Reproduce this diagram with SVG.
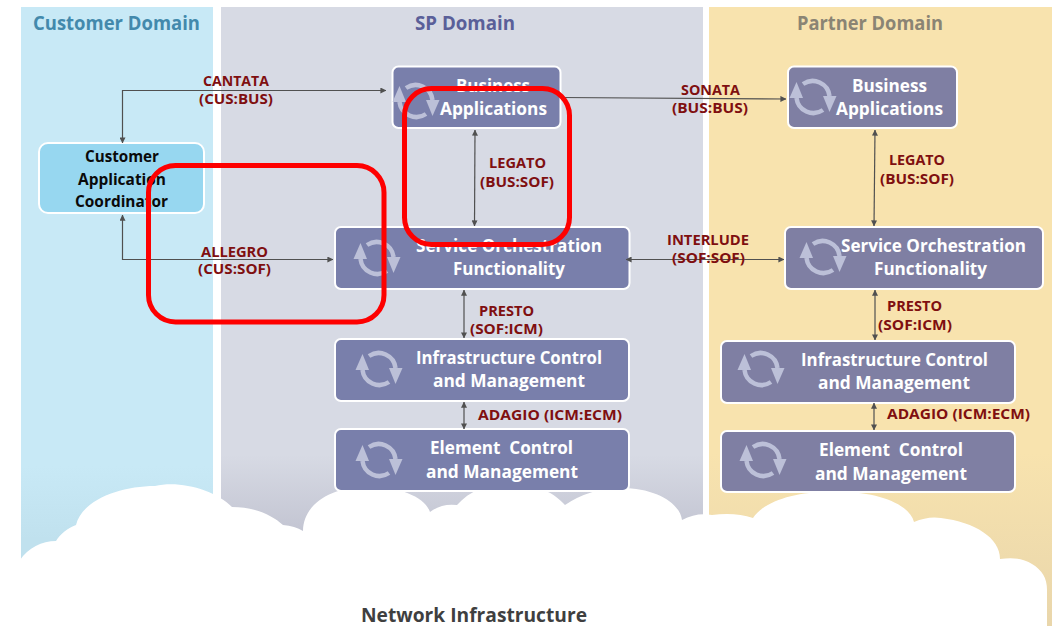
<svg xmlns="http://www.w3.org/2000/svg" width="1053" height="626" viewBox="0 0 1053 626">
<style>
text{font-family:"Open Sans","Noto Sans","Liberation Sans",sans-serif;font-weight:700;}
.t{font-size:18px;fill:#fff;}
.h{font-size:20px;}
.l{font-size:14.500px;fill:#7f0f10;}
.c{font-size:16px;fill:#0a0a0a;}
.b{fill:#797fab;stroke:#fff;stroke-width:2;}
.p{fill:#7f7fa3;stroke:#fff;stroke-width:2;}
.k{fill:none;stroke:#505050;stroke-width:1.2;marker-start:url(#a);marker-end:url(#a);}
.r{fill:none;stroke:#fe0000;stroke-width:5;}
</style>
<defs>
<marker id="a" viewBox="0 0 8 8" refX="7.500" refY="4" markerWidth="6" markerHeight="6" markerUnits="userSpaceOnUse" orient="auto-start-reverse"><path d="M0 0L8 4L0 8Z" fill="#505050"/></marker>
<linearGradient id="g1" x1="0" y1="0" x2="0" y2="1"><stop offset=".82" stop-color="#c8e9f6"/><stop offset=".95" stop-color="#c0e1ee"/></linearGradient>
<linearGradient id="g2" x1="0" y1="0" x2="0" y2="1"><stop offset=".8" stop-color="#d7dae4"/><stop offset=".93" stop-color="#c4c6d3"/></linearGradient>
<linearGradient id="g3" x1="0" y1="0" x2="0" y2="1"><stop offset=".72" stop-color="#f8e3ae"/><stop offset="1" stop-color="#e9d6ab"/></linearGradient>
<g id="i" fill="#bcc0d8">
<path d="M-10-13A17 17 0 0 1 16.500-1M10 13A17 17 0 0 1-16.500 1" fill="none" stroke="#bcc0d8" stroke-width="4.500"/>
<path d="M10-1H23.500L16.500 15Z"/><path d="M-10 1H-23.500L-16.500-15Z"/>
</g>
</defs>
<rect width="1053" height="626" fill="#fff"/>
<rect x="21" y="7" width="192" height="560" fill="url(#g1)"/>
<rect x="221" y="7" width="482" height="560" fill="url(#g2)"/>
<rect x="709" y="7" width="343" height="619" fill="url(#g3)"/>
<g id="domain-titles">
<text class="h" x="33" y="30" textLength="167" lengthAdjust="spacingAndGlyphs" fill="#4389ac">Customer Domain</text>
<text class="h" x="415" y="30" textLength="100" lengthAdjust="spacingAndGlyphs" fill="#5a5f99">SP Domain</text>
<text class="h" x="797" y="30" textLength="146" lengthAdjust="spacingAndGlyphs" fill="#8a8474">Partner Domain</text>
</g>
<g id="cloud"><path d="M20 626V560C28 548 42 541 56 541C60 534 68 528 76 525C82 500 120 486 155 486C180 480 215 490 232 507C255 507 272 515 283 525Q295 526 303 531C303 505 330 486 370 487C400 487 425 497 430 512Q442 503 457 505C470 490 490 483 510 484C535 483 555 493 565 505Q590 488 622 488C655 488 680 503 682 520Q697 512 712 515Q735 512 753 518C765 500 800 490 840 492C880 492 910 505 914 522Q928 516 941 518C975 522 1000 538 1000 559Q1020 556 1032 564C1042 570 1047 578 1047 590V626Z" fill="#fff"/></g>
<g id="customer-application-coordinator">
<rect x="39" y="143" width="165" height="70" rx="9" fill="#97d7f0" stroke="#fff" stroke-width="2"/>
<text class="c" x="85" y="162" textLength="74" lengthAdjust="spacingAndGlyphs">Customer</text>
<text class="c" x="78" y="185" textLength="88" lengthAdjust="spacingAndGlyphs">Application</text>
<text class="c" x="75" y="207" textLength="93" lengthAdjust="spacingAndGlyphs">Coordinator</text>
</g>
<g id="sp-business-applications">
<rect class="b" x="392.500" y="66.500" width="168" height="61.500" rx="6"/><use href="#i" transform="translate(416 101)"/>
<text class="t" x="456" y="92" textLength="74" lengthAdjust="spacingAndGlyphs">Business</text>
<text class="t" x="440" y="115" textLength="107" lengthAdjust="spacingAndGlyphs">Applications</text>
</g>
<g id="sp-service-orchestration">
<rect class="b" x="335" y="227" width="294.500" height="62" rx="6"/><use href="#i" transform="translate(377 258)"/>
<text class="t" x="416" y="252" textLength="186" lengthAdjust="spacingAndGlyphs">Service Orchestration</text>
<text class="t" x="453" y="275" textLength="112" lengthAdjust="spacingAndGlyphs">Functionality</text>
</g>
<g id="sp-infrastructure-control">
<rect class="b" x="335" y="339" width="294" height="62" rx="6"/><use href="#i" transform="translate(379 369)"/>
<text class="t" x="416" y="364" textLength="186" lengthAdjust="spacingAndGlyphs">Infrastructure Control</text>
<text class="t" x="433" y="387" textLength="152" lengthAdjust="spacingAndGlyphs">and Management</text>
</g>
<g id="sp-element-control">
<rect class="b" x="335" y="429" width="294" height="62" rx="6"/><use href="#i" transform="translate(379 460)"/>
<text class="t" x="430" y="454" textLength="143" lengthAdjust="spacingAndGlyphs" xml:space="preserve">Element  Control</text>
<text class="t" x="426" y="478" textLength="152" lengthAdjust="spacingAndGlyphs">and Management</text>
</g>
<g id="partner-business-applications">
<rect class="p" x="788" y="66.500" width="169" height="61.500" rx="6"/><use href="#i" transform="translate(813 97)"/>
<text class="t" x="852" y="92" textLength="75" lengthAdjust="spacingAndGlyphs">Business</text>
<text class="t" x="836" y="115" textLength="107" lengthAdjust="spacingAndGlyphs">Applications</text>
</g>
<g id="partner-service-orchestration">
<rect class="p" x="785" y="227" width="258" height="62" rx="6"/><use href="#i" transform="translate(823 257)"/>
<text class="t" x="841" y="252" textLength="185" lengthAdjust="spacingAndGlyphs">Service Orchestration</text>
<text class="t" x="874" y="275" textLength="113" lengthAdjust="spacingAndGlyphs">Functionality</text>
</g>
<g id="partner-infrastructure-control">
<rect class="p" x="721" y="341" width="294" height="62" rx="6"/><use href="#i" transform="translate(761 369)"/>
<text class="t" x="801" y="366" textLength="187" lengthAdjust="spacingAndGlyphs">Infrastructure Control</text>
<text class="t" x="818" y="389" textLength="152" lengthAdjust="spacingAndGlyphs">and Management</text>
</g>
<g id="partner-element-control">
<rect class="p" x="721" y="431" width="294" height="61" rx="6"/><use href="#i" transform="translate(763 460)"/>
<text class="t" x="819" y="456" textLength="144" lengthAdjust="spacingAndGlyphs" xml:space="preserve">Element  Control</text>
<text class="t" x="815" y="480" textLength="152" lengthAdjust="spacingAndGlyphs">and Management</text>
</g>
<g id="connectors">
<path class="k" d="M122.500 143V90.500H386"/>
<path class="k" d="M122.500 215V259.500H333"/>
<path d="M561 97.500L786 99" fill="none" stroke="#505050" stroke-width="1.200" marker-end="url(#a)"/>
<path class="k" d="M475 130L474.500 226"/>
<path class="k" d="M875 130L874 226"/>
<path class="k" d="M626 259.500H784"/>
<path class="k" d="M464 290V338"/>
<path class="k" d="M464 402V429"/>
<path class="k" d="M875 290V340"/>
<path class="k" d="M874 403V430"/>
</g>
<g id="connector-labels">
<text class="l" x="203" y="86" textLength="66" lengthAdjust="spacingAndGlyphs">CANTATA</text>
<text class="l" x="199" y="104" textLength="74" lengthAdjust="spacingAndGlyphs">(CUS:BUS)</text>
<text class="l" x="201" y="257" textLength="67" lengthAdjust="spacingAndGlyphs">ALLEGRO</text>
<text class="l" x="198" y="274" textLength="73" lengthAdjust="spacingAndGlyphs">(CUS:SOF)</text>
<text class="l" x="681" y="95" textLength="59" lengthAdjust="spacingAndGlyphs">SONATA</text>
<text class="l" x="672" y="113" textLength="76" lengthAdjust="spacingAndGlyphs">(BUS:BUS)</text>
<text class="l" x="489" y="168" textLength="57" lengthAdjust="spacingAndGlyphs">LEGATO</text>
<text class="l" x="480" y="187" textLength="74" lengthAdjust="spacingAndGlyphs">(BUS:SOF)</text>
<text class="l" x="889" y="165" textLength="56" lengthAdjust="spacingAndGlyphs">LEGATO</text>
<text class="l" x="880" y="184" textLength="74" lengthAdjust="spacingAndGlyphs">(BUS:SOF)</text>
<text class="l" x="667" y="245" textLength="82" lengthAdjust="spacingAndGlyphs">INTERLUDE</text>
<text class="l" x="672" y="263" textLength="73" lengthAdjust="spacingAndGlyphs">(SOF:SOF)</text>
<text class="l" x="479" y="316" textLength="55" lengthAdjust="spacingAndGlyphs">PRESTO</text>
<text class="l" x="470" y="334" textLength="73" lengthAdjust="spacingAndGlyphs">(SOF:ICM)</text>
<text class="l" x="887" y="311" textLength="55" lengthAdjust="spacingAndGlyphs">PRESTO</text>
<text class="l" x="878" y="330" textLength="74" lengthAdjust="spacingAndGlyphs">(SOF:ICM)</text>
<text class="l" x="478" y="420" textLength="144" lengthAdjust="spacingAndGlyphs">ADAGIO (ICM:ECM)</text>
<text class="l" x="887" y="419" textLength="143" lengthAdjust="spacingAndGlyphs">ADAGIO (ICM:ECM)</text>
</g>
<text x="361" y="622" font-size="20" textLength="226" lengthAdjust="spacingAndGlyphs" fill="#3f3f3f">Network Infrastructure</text>
<g id="highlights">
<rect class="r" x="148.500" y="165.500" width="235.500" height="156.500" rx="27"/>
<rect class="r" x="404.500" y="88.500" width="165" height="156" rx="27"/>
</g>
</svg>
